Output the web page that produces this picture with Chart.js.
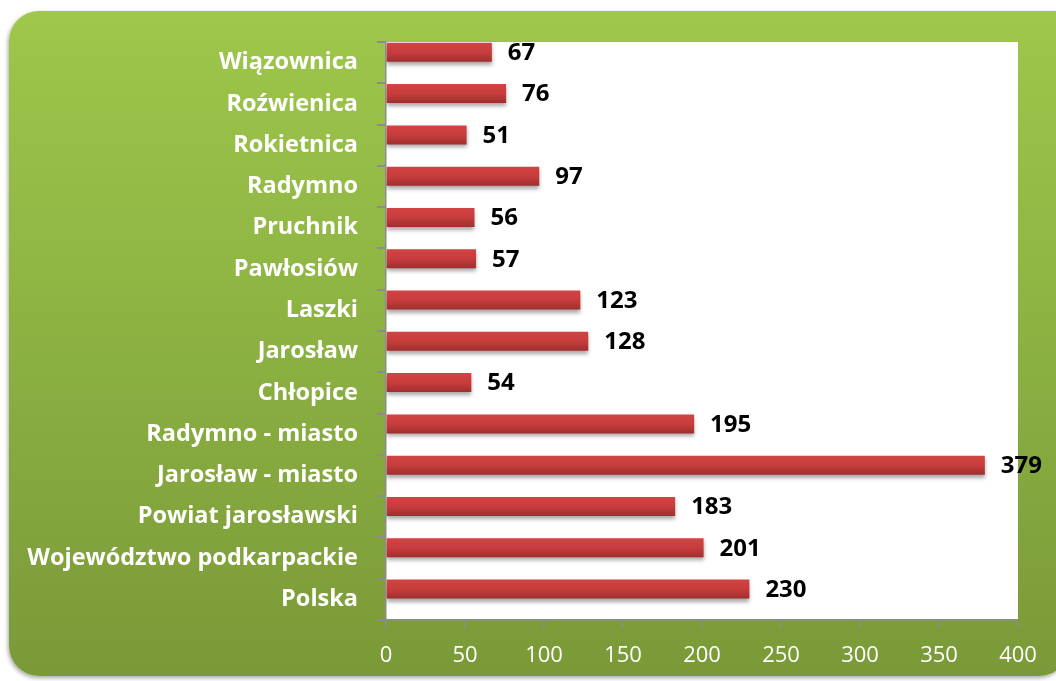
<!DOCTYPE html>
<html>
<head>
<meta charset="utf-8">
<script src="https://cdn.jsdelivr.net/npm/chart.js@4/dist/chart.umd.min.js"></script>
<style>
  html, body { margin: 0; padding: 0; background: #ffffff; }
  #wrap { position: relative; width: 1056px; height: 681px; overflow: hidden; }
  #panel {
    position: absolute; left: 9px; top: 11px; width: 1060px; height: 665px;
    border-radius: 30px 12px 30px 30px;
    background: linear-gradient(to bottom, #9ec74b 0%, #8cb142 50%, #7a9938 100%);
    box-shadow: -1px 2px 4px rgba(0, 0, 0, 0.35);
  }
  #chart { position: absolute; left: 0; top: 0; }
</style>
</head>
<body>
<div id="wrap">
  <div id="panel"></div>
  <canvas id="chart" width="1056" height="681"></canvas>
</div>
<script>
const categories = [
  "Wiązownica",
  "Roźwienica",
  "Rokietnica",
  "Radymno",
  "Pruchnik",
  "Pawłosiów",
  "Laszki",
  "Jarosław",
  "Chłopice",
  "Radymno - miasto",
  "Jarosław - miasto",
  "Powiat jarosławski",
  "Województwo podkarpackie",
  "Polska",
];
const values = [67, 76, 51, 97, 56, 57, 123, 128, 54, 195, 379, 183, 201, 230];
const xTicks = [0, 50, 100, 150, 200, 250, 300, 350, 400];

const plotBg = {
  id: "plotBg",
  beforeDraw(chart) {
    const { ctx, chartArea } = chart;
    ctx.save();
    ctx.fillStyle = "#ffffff";
    ctx.fillRect(chartArea.left, chartArea.top, chartArea.right - chartArea.left, chartArea.bottom - chartArea.top);
    ctx.restore();
  },
  beforeDatasetsDraw(chart) {
    const ctx = chart.ctx;
    ctx.save();
    ctx.shadowColor = "rgba(0, 0, 0, 0.35)";
    ctx.shadowBlur = 4;
    ctx.shadowOffsetY = 3;
  },
  afterDatasetsDraw(chart) {
    const ctx = chart.ctx;
    ctx.restore();
    // value labels
    const meta = chart.getDatasetMeta(0);
    ctx.save();
    ctx.font = "bold 24px 'Open Sans'";
    ctx.fillStyle = "#000000";
    ctx.textAlign = "left";
    ctx.textBaseline = "middle";
    meta.data.forEach((bar, i) => {
      ctx.fillText(String(values[i]), bar.x + 16, bar.y + 1);
    });
    ctx.restore();
  },
};

function barGradient(c) {
  const chart = c.chart;
  const y = chart.scales.y;
  if (!chart.chartArea || !y) return "#c03a3a";
  const center = y.getPixelForValue(c.dataIndex);
  const half = (chart.chartArea.bottom - chart.chartArea.top) / categories.length / 2;
  const top = center - half + 1;
  const g = chart.ctx.createLinearGradient(0, top, 0, center);
  g.addColorStop(0, "#d34343");
  g.addColorStop(0.5, "#c63c3c");
  g.addColorStop(1, "#9b2d2d");
  return g;
}

new Chart(document.getElementById("chart").getContext("2d"), {
  type: "bar",
  data: {
    labels: categories,
    datasets: [
      {
        data: values,
        backgroundColor: barGradient,
        borderWidth: 0,
        categoryPercentage: 1.0,
        barPercentage: 0.92,
      },
      {
        data: categories.map(() => null),
        backgroundColor: "rgba(0,0,0,0)",
        categoryPercentage: 1.0,
        barPercentage: 0.92,
      },
    ],
  },
  options: {
    indexAxis: "y",
    responsive: false,
    animation: false,
    events: [],
    layout: { padding: { top: 42, right: 38, left: 0, bottom: 0 } },
    plugins: {
      legend: { display: false },
      tooltip: { enabled: false },
    },
    scales: {
      x: {
        min: 0,
        max: 400,
        afterBuildTicks(scale) {
          scale.ticks = xTicks.map((v) => ({ value: v }));
        },
        afterFit(scale) {
          scale.height = 61;
        },
        grid: { drawOnChartArea: false, drawTicks: true, tickLength: 8, color: "#8c8c8c", lineWidth: 1.5 },
        border: { color: "#8c8c8c", width: 1.5 },
        ticks: {
          color: "#ffffff",
          padding: 15,
          font: { family: "'Open Sans'", size: 22 },
        },
      },
      y: {
        afterFit(scale) {
          scale.width = 386;
        },
        grid: { offset: true, drawOnChartArea: false, drawTicks: true, tickLength: 9, color: "#8c8c8c", lineWidth: 2 },
        border: { color: "#8c8c8c", width: 1.5 },
        ticks: {
          color: "#ffffff",
          padding: 19,
          autoSkip: false,
          font: { family: "'Open Sans'", size: 23.5, weight: "bold" },
        },
      },
    },
  },
  plugins: [plotBg],
});
</script>
</body>
</html>
